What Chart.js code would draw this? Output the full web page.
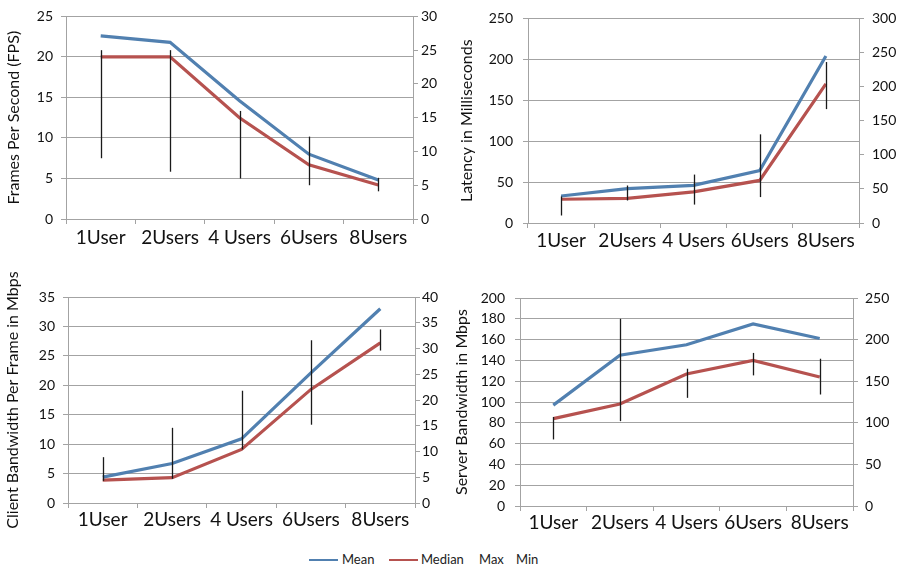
<!DOCTYPE html>
<html>
<head>
<meta charset="utf-8">
<script src="https://cdn.jsdelivr.net/npm/chart.js@4"></script>
<style>
  body { margin: 0; background: #fff; width: 899px; height: 567px; position: relative; overflow: hidden; font-family: Lato, sans-serif; }
  canvas { position: absolute; }
  .lg { position: absolute; font-size: 13px; color: #222; line-height: 16px; top: 551px; }
  .sw { position: absolute; height: 2px; top: 559px; }
</style>
</head>
<body>
<canvas id="c1" width="450" height="262" style="left:0;top:0"></canvas>
<canvas id="c2" width="449" height="262" style="left:450px;top:0"></canvas>
<canvas id="c3" width="450" height="270" style="left:0;top:270px"></canvas>
<canvas id="c4" width="449" height="270" style="left:450px;top:270px"></canvas>

<div class="sw" style="left:309px;width:29px;background:#5180b0"></div>
<div class="lg" style="left:342px">Mean</div>
<div class="sw" style="left:389px;width:29px;background:#b6524f"></div>
<div class="lg" style="left:421px">Median</div>
<div class="lg" style="left:479px">Max</div>
<div class="lg" style="left:516px">Min</div>

<script>
// categories shared by all four panels
const users = ['1User', '2Users', '4 Users', '6Users', '8Users'];

// frames per second
const fpsMean   = [22.6, 21.8, 14.6, 8.0, 4.8];
const fpsMedian = [20.0, 20.0, 12.5, 6.7, 4.2];
const fpsMax    = [25.0, 25.0, 16.0, 12.2, 6.1];
const fpsMin    = [9.0, 7.0, 6.0, 5.0, 4.1];

// latency (ms)
const latMean   = [33, 42, 46, 64, 204];
const latMedian = [29, 30, 38, 52, 170];
const latMax    = [39, 55, 71, 130, 236];
const latMin    = [11, 33, 27, 38, 167];

// client bandwidth per frame (Mbps)
const cliMean   = [4.4, 6.7, 10.9, 22.1, 33.0];
const cliMedian = [3.9, 4.3, 9.1, 19.3, 27.2];
const cliMax    = [8.9, 14.6, 21.8, 31.6, 33.7];
const cliMin    = [4.3, 4.7, 10.4, 15.2, 29.6];

// server bandwidth (Mbps)
const srvMean   = [97, 145, 155, 175, 161];
const srvMedian = [84, 98, 127, 140, 124];
const srvMax    = [107, 225, 165, 184, 177];
const srvMin    = [80, 102, 130, 157, 134];

Chart.defaults.font.family = 'Lato';
Chart.defaults.color = '#111';

const gridGray = '#a3a3a3';

// vertical high-low lines between the Max and Min series
const highLow = {
  id: 'highLow',
  afterDatasetsDraw(chart) {
    const ds = chart.data.datasets;
    const hi = chart.getDatasetMeta(ds.findIndex(d => d.label === 'Max')).data;
    const lo = chart.getDatasetMeta(ds.findIndex(d => d.label === 'Min')).data;
    const ctx = chart.ctx;
    ctx.save();
    ctx.strokeStyle = '#1a1a1a';
    ctx.lineWidth = 1.3;
    hi.forEach((p, i) => {
      const x = Math.round(p.x) + 0.5;
      ctx.beginPath();
      ctx.moveTo(x, p.y);
      ctx.lineTo(x, lo[i].y);
      ctx.stroke();
    });
    ctx.restore();
  }
};

function panel(id, mean, median, max, min, o) {
  new Chart(document.getElementById(id), {
    type: 'line',
    data: {
      labels: users,
      datasets: [
        { label: 'Mean', data: mean, borderColor: '#5180b0', borderWidth: 3.2, pointRadius: 0, tension: 0, yAxisID: 'y' },
        { label: 'Median', data: median, borderColor: '#b6524f', borderWidth: 3.2, pointRadius: 0, tension: 0, yAxisID: 'y' },
        { label: 'Max', data: max, showLine: false, pointRadius: 0, yAxisID: 'y1' },
        { label: 'Min', data: min, showLine: false, pointRadius: 0, yAxisID: 'y1' }
      ]
    },
    options: {
      responsive: false,
      animation: false,
      events: [],
      layout: { padding: { top: o.top, left: 0, right: 0, bottom: 0 } },
      plugins: { legend: { display: false }, tooltip: { enabled: false } },
      scales: {
        x: {
          offset: true,
          grid: { offset: true, drawOnChartArea: false, drawTicks: true, tickLength: 5, color: gridGray },
          border: { color: gridGray },
          ticks: { font: { size: 19 }, padding: o.xPad, maxRotation: 0, autoSkip: false },
          afterFit(s) { s.height = o.xH; }
        },
        y: {
          position: 'left',
          min: 0, max: o.yMax,
          grid: { color: gridGray, tickLength: 5 },
          border: { color: gridGray },
          ticks: { stepSize: o.yStep, font: { size: 14 }, padding: o.lPad },
          title: { display: true, text: o.title, font: { size: 16 }, padding: { top: o.tPad, bottom: 0 } },
          afterFit(s) { s.width = o.lW; }
        },
        y1: {
          position: 'right',
          min: 0, max: o.y1Max,
          grid: { drawOnChartArea: false, tickLength: 5, color: gridGray },
          border: { color: gridGray },
          ticks: { stepSize: o.y1Step, font: { size: 14 }, padding: o.rPad },
          afterFit(s) { s.width = o.rW; }
        }
      }
    },
    plugins: [highLow]
  });
}

panel('c1', fpsMean, fpsMedian, fpsMax, fpsMin,
  { title: 'Frames Per Second (FPS)', yMax: 25, yStep: 5, y1Max: 30, y1Step: 5,
    top: 12, xH: 43, lW: 66, rW: 37, tPad: 4, lPad: 8, rPad: 3, xPad: 2 });
panel('c2', latMean, latMedian, latMax, latMin,
  { title: 'Latency in Milliseconds', yMax: 250, yStep: 50, y1Max: 300, y1Step: 50,
    top: 16, xH: 39, lW: 78, rW: 40, tPad: 7, lPad: 10, rPad: 8, xPad: 1 });
panel('c3', cliMean, cliMedian, cliMax, cliMin,
  { title: 'Client Bandwidth Per Frame in Mbps', yMax: 35, yStep: 5, y1Max: 40, y1Step: 5,
    top: 27, xH: 37, lW: 68, rW: 35, tPad: 3, lPad: 8, rPad: 2, xPad: 0 });
panel('c4', srvMean, srvMedian, srvMax, srvMin,
  { title: 'Server Bandwidth in Mbps', yMax: 200, yStep: 20, y1Max: 250, y1Step: 50,
    top: 28, xH: 34, lW: 70, rW: 46, tPad: 2, lPad: 10, rPad: 7, xPad: 0 });
</script>
</body>
</html>
